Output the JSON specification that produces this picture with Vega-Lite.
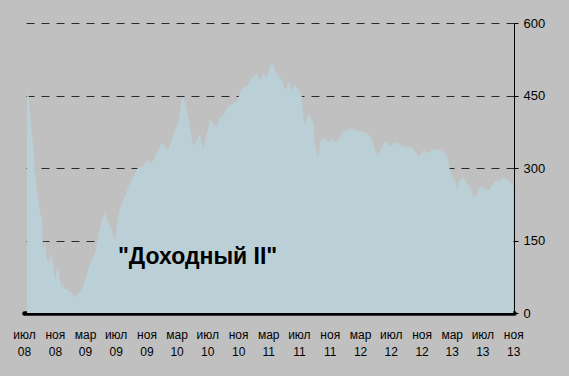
{
  "$schema": "https://vega.github.io/schema/vega-lite/v6.json",
  "width": 490,
  "height": 290,
  "autosize": "none",
  "padding": {"left": 24, "top": 23, "right": 55, "bottom": 63},
  "background": "#c0c0c0",
  "config": {"view": {"stroke": null}, "font": "Liberation Sans"},
  "datasets": {
    "series": [
      {"date": "2008-07-13", "value": 455}, {"date": "2008-07-19", "value": 450}, {"date": "2008-07-25", "value": 414},
      {"date": "2008-07-31", "value": 380}, {"date": "2008-08-07", "value": 343}, {"date": "2008-08-14", "value": 290},
      {"date": "2008-08-21", "value": 254}, {"date": "2008-08-28", "value": 230}, {"date": "2008-09-03", "value": 207},
      {"date": "2008-09-10", "value": 199}, {"date": "2008-09-16", "value": 124}, {"date": "2008-09-23", "value": 151},
      {"date": "2008-09-29", "value": 115}, {"date": "2008-10-05", "value": 103}, {"date": "2008-10-13", "value": 118},
      {"date": "2008-10-19", "value": 124}, {"date": "2008-10-27", "value": 90}, {"date": "2008-11-02", "value": 68},
      {"date": "2008-11-08", "value": 85}, {"date": "2008-11-15", "value": 95}, {"date": "2008-11-21", "value": 70},
      {"date": "2008-11-28", "value": 54}, {"date": "2008-12-05", "value": 60}, {"date": "2008-12-11", "value": 48},
      {"date": "2008-12-21", "value": 50}, {"date": "2008-12-31", "value": 41}, {"date": "2009-01-07", "value": 45},
      {"date": "2009-01-13", "value": 33}, {"date": "2009-01-22", "value": 38}, {"date": "2009-01-28", "value": 35},
      {"date": "2009-02-02", "value": 41}, {"date": "2009-02-16", "value": 48}, {"date": "2009-03-01", "value": 68},
      {"date": "2009-03-14", "value": 89}, {"date": "2009-03-28", "value": 110}, {"date": "2009-04-10", "value": 124},
      {"date": "2009-04-23", "value": 157}, {"date": "2009-05-07", "value": 192}, {"date": "2009-05-13", "value": 200},
      {"date": "2009-05-20", "value": 207}, {"date": "2009-05-26", "value": 198}, {"date": "2009-06-02", "value": 186},
      {"date": "2009-06-09", "value": 180}, {"date": "2009-06-15", "value": 172}, {"date": "2009-06-22", "value": 160},
      {"date": "2009-06-29", "value": 150}, {"date": "2009-07-05", "value": 175}, {"date": "2009-07-12", "value": 200},
      {"date": "2009-07-18", "value": 215}, {"date": "2009-07-25", "value": 227}, {"date": "2009-08-07", "value": 240},
      {"date": "2009-08-21", "value": 261}, {"date": "2009-09-03", "value": 275}, {"date": "2009-09-16", "value": 289},
      {"date": "2009-09-29", "value": 302}, {"date": "2009-10-13", "value": 302}, {"date": "2009-10-26", "value": 310},
      {"date": "2009-11-08", "value": 317}, {"date": "2009-11-22", "value": 310}, {"date": "2009-12-05", "value": 323},
      {"date": "2009-12-18", "value": 337}, {"date": "2010-01-01", "value": 352}, {"date": "2010-01-14", "value": 344},
      {"date": "2010-01-27", "value": 337}, {"date": "2010-02-09", "value": 358}, {"date": "2010-02-23", "value": 379},
      {"date": "2010-03-08", "value": 393}, {"date": "2010-03-15", "value": 420}, {"date": "2010-03-21", "value": 445},
      {"date": "2010-03-28", "value": 447}, {"date": "2010-04-03", "value": 435}, {"date": "2010-04-10", "value": 420},
      {"date": "2010-04-23", "value": 385}, {"date": "2010-05-07", "value": 344}, {"date": "2010-05-20", "value": 358},
      {"date": "2010-06-02", "value": 372}, {"date": "2010-06-15", "value": 337}, {"date": "2010-06-29", "value": 372},
      {"date": "2010-07-12", "value": 400}, {"date": "2010-07-25", "value": 393}, {"date": "2010-08-08", "value": 385},
      {"date": "2010-08-21", "value": 405}, {"date": "2010-09-03", "value": 410}, {"date": "2010-09-17", "value": 424},
      {"date": "2010-09-30", "value": 430}, {"date": "2010-10-13", "value": 434}, {"date": "2010-10-26", "value": 437},
      {"date": "2010-11-09", "value": 455}, {"date": "2010-11-22", "value": 466}, {"date": "2010-12-05", "value": 468},
      {"date": "2010-12-19", "value": 482}, {"date": "2011-01-01", "value": 489}, {"date": "2011-01-14", "value": 496},
      {"date": "2011-01-27", "value": 482}, {"date": "2011-02-09", "value": 496}, {"date": "2011-02-23", "value": 489},
      {"date": "2011-03-08", "value": 510}, {"date": "2011-03-19", "value": 519}, {"date": "2011-03-28", "value": 503},
      {"date": "2011-04-10", "value": 492}, {"date": "2011-04-24", "value": 482}, {"date": "2011-05-07", "value": 461},
      {"date": "2011-05-20", "value": 478}, {"date": "2011-06-03", "value": 461}, {"date": "2011-06-16", "value": 472},
      {"date": "2011-06-29", "value": 461}, {"date": "2011-07-12", "value": 451}, {"date": "2011-07-19", "value": 400},
      {"date": "2011-07-26", "value": 393}, {"date": "2011-08-02", "value": 405}, {"date": "2011-08-10", "value": 414},
      {"date": "2011-08-21", "value": 400}, {"date": "2011-08-28", "value": 393}, {"date": "2011-09-03", "value": 352},
      {"date": "2011-09-14", "value": 321}, {"date": "2011-09-23", "value": 352}, {"date": "2011-10-06", "value": 362},
      {"date": "2011-10-20", "value": 358}, {"date": "2011-11-02", "value": 354}, {"date": "2011-11-09", "value": 362},
      {"date": "2011-11-22", "value": 354}, {"date": "2011-12-05", "value": 358}, {"date": "2011-12-19", "value": 372},
      {"date": "2012-01-01", "value": 376}, {"date": "2012-01-14", "value": 379}, {"date": "2012-01-28", "value": 381},
      {"date": "2012-02-10", "value": 377}, {"date": "2012-03-01", "value": 376}, {"date": "2012-03-14", "value": 374},
      {"date": "2012-03-27", "value": 372}, {"date": "2012-04-09", "value": 366}, {"date": "2012-04-16", "value": 360},
      {"date": "2012-04-29", "value": 337}, {"date": "2012-05-10", "value": 323}, {"date": "2012-05-26", "value": 344},
      {"date": "2012-06-04", "value": 350}, {"date": "2012-06-15", "value": 354}, {"date": "2012-06-28", "value": 344},
      {"date": "2012-07-11", "value": 352}, {"date": "2012-07-18", "value": 352}, {"date": "2012-07-31", "value": 352},
      {"date": "2012-08-07", "value": 348}, {"date": "2012-08-20", "value": 344}, {"date": "2012-09-03", "value": 344},
      {"date": "2012-09-09", "value": 341}, {"date": "2012-09-16", "value": 345}, {"date": "2012-09-29", "value": 341},
      {"date": "2012-10-19", "value": 323}, {"date": "2012-11-08", "value": 337}, {"date": "2012-11-28", "value": 331},
      {"date": "2012-12-18", "value": 337}, {"date": "2013-01-07", "value": 339}, {"date": "2013-01-27", "value": 333},
      {"date": "2013-02-12", "value": 323}, {"date": "2013-02-22", "value": 295}, {"date": "2013-03-07", "value": 281},
      {"date": "2013-03-14", "value": 275}, {"date": "2013-03-23", "value": 254}, {"date": "2013-04-03", "value": 275},
      {"date": "2013-04-16", "value": 281}, {"date": "2013-04-30", "value": 269}, {"date": "2013-05-13", "value": 261},
      {"date": "2013-05-26", "value": 240}, {"date": "2013-06-09", "value": 244}, {"date": "2013-06-22", "value": 261},
      {"date": "2013-07-05", "value": 259}, {"date": "2013-07-18", "value": 254}, {"date": "2013-08-01", "value": 256},
      {"date": "2013-08-14", "value": 269}, {"date": "2013-08-27", "value": 275}, {"date": "2013-09-09", "value": 273},
      {"date": "2013-09-23", "value": 281}, {"date": "2013-10-06", "value": 275}, {"date": "2013-10-19", "value": 271},
      {"date": "2013-11-01", "value": 265}
    ],
    "label": [{"date": "2009-07-10", "value": 116, "text": "\"Доходный II\""}]
  },
  "layer": [
    {
      "data": {"name": "series"},
      "mark": {"type": "area", "color": "#bbcfd6", "opacity": 1},
      "encoding": {
        "x": {
          "field": "date", "type": "temporal",
          "scale": {"type": "utc", "domain": [{"year": 2008, "month": 7, "date": 1, "utc": true}, {"year": 2013, "month": 11, "date": 4, "utc": true}]},
          "axis": {
            "title": null,
            "orient": "bottom",
            "grid": false,
            "ticks": false,
            "tickSize": 0,
            "tickCount": 40,
            "domainColor": "#000000",
            "domainWidth": 4.5,
            "domainCap": "round",
            "labelFont": "Liberation Sans",
            "labelFontSize": 12,
            "labelColor": "#000000",
            "labelPadding": 16,
            "labelLineHeight": 17,
            "labelOverlap": false,
            "labelFlush": false,
            "labelBound": false,
            "values": [
              {"year": 2008, "month": 7, "date": 1, "utc": true}, {"year": 2008, "month": 11, "date": 1, "utc": true},
              {"year": 2009, "month": 3, "date": 1, "utc": true}, {"year": 2009, "month": 7, "date": 1, "utc": true},
              {"year": 2009, "month": 11, "date": 1, "utc": true}, {"year": 2010, "month": 3, "date": 1, "utc": true},
              {"year": 2010, "month": 7, "date": 1, "utc": true}, {"year": 2010, "month": 11, "date": 1, "utc": true},
              {"year": 2011, "month": 3, "date": 1, "utc": true}, {"year": 2011, "month": 7, "date": 1, "utc": true},
              {"year": 2011, "month": 11, "date": 1, "utc": true}, {"year": 2012, "month": 3, "date": 1, "utc": true},
              {"year": 2012, "month": 7, "date": 1, "utc": true}, {"year": 2012, "month": 11, "date": 1, "utc": true},
              {"year": 2013, "month": 3, "date": 1, "utc": true}, {"year": 2013, "month": 7, "date": 1, "utc": true},
              {"year": 2013, "month": 11, "date": 1, "utc": true}
            ],
            "labelExpr": "[['янв','фев','мар','апр','май','июн','июл','авг','сен','окт','ноя','дек'][utcmonth(datum.value)], utcFormat(datum.value, '%y')]"
          }
        },
        "y": {
          "field": "value", "type": "quantitative",
          "scale": {"domain": [0, 600], "nice": false, "zero": true},
          "axis": {
            "title": null,
            "orient": "right",
            "values": [0, 150, 300, 450, 600],
            "grid": true,
            "gridColor": "#2a2a2a",
            "gridDash": [8, 7],
            "gridWidth": 1,
            "domainColor": "#000000",
            "domainWidth": 1,
            "tickColor": "#000000",
            "tickSize": 4,
            "labelFont": "Liberation Sans",
            "labelFontSize": 13,
            "labelColor": "#000000",
            "labelPadding": 5
          }
        }
      }
    },
    {
      "data": {"name": "label"},
      "mark": {"type": "text", "align": "left", "baseline": "middle", "font": "Liberation Sans", "fontWeight": "bold", "fontSize": 23, "color": "#000000"},
      "encoding": {
        "x": {"field": "date", "type": "temporal"},
        "y": {"field": "value", "type": "quantitative"},
        "text": {"field": "text"}
      }
    }
  ]
}
